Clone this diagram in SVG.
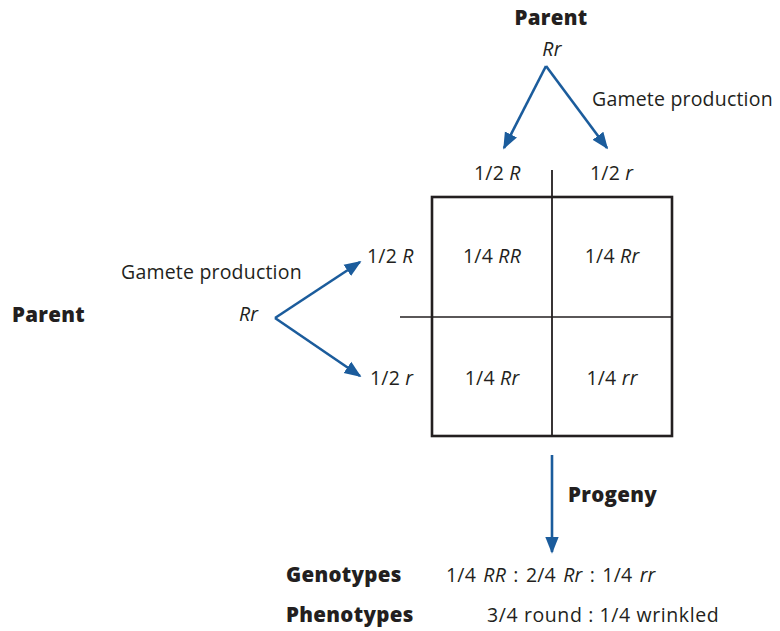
<svg xmlns="http://www.w3.org/2000/svg" width="780" height="631" viewBox="0 0 780 631">
  <style>
    text { font-family: "Open Sans", "Noto Sans", "Liberation Sans", sans-serif; fill: #231f20; }
    .lbl { font-size: 19.5px; letter-spacing: 0.2px; }
    .bold { font-size: 20.5px; font-weight: 800; letter-spacing: 0.3px; }
    .it { font-style: italic; }
    .mid { text-anchor: middle; }
    .arrow { stroke: #1b5c9c; stroke-width: 2.6; fill: none; marker-end: url(#head); }
    .grid { stroke: #231f20; fill: none; }
  </style>
  <defs>
    <marker id="head" viewBox="0 0 10 10" refX="9" refY="5" markerWidth="6.5" markerHeight="6.5" markerUnits="strokeWidth" orient="auto">
      <path d="M0,1 L10,5 L0,9 Z" fill="#1b5c9c"/>
    </marker>
  </defs>

  <rect width="780" height="631" fill="#ffffff"/>

  <!-- top parent -->
  <g id="parent-top">
    <text class="bold mid" x="551" y="25">Parent</text>
    <text class="lbl it mid" x="552" y="56">Rr</text>
  </g>
  <text class="lbl" x="592" y="106">Gamete production</text>

  <!-- left parent -->
  <g id="parent-left">
    <text class="bold" x="12" y="322">Parent</text>
    <text class="lbl it" x="239" y="321">Rr</text>
  </g>
  <text class="lbl" x="121" y="279">Gamete production</text>

  <!-- gamete labels -->
  <g id="gamete-top-R"><text class="lbl" x="474" y="180">1/2 <tspan class="it">R</tspan></text></g>
  <g id="gamete-top-r"><text class="lbl" x="590" y="180">1/2 <tspan class="it">r</tspan></text></g>
  <g id="gamete-left-R"><text class="lbl" x="367" y="263">1/2 <tspan class="it">R</tspan></text></g>
  <g id="gamete-left-r"><text class="lbl" x="370" y="385">1/2 <tspan class="it">r</tspan></text></g>

  <!-- Punnett square -->
  <g id="punnett">
    <rect class="grid" x="432" y="197" width="240" height="239" stroke-width="2.6"/>
    <line class="grid" x1="552" y1="170" x2="552" y2="436" stroke-width="1.8"/>
    <line class="grid" x1="400" y1="317" x2="672" y2="317" stroke-width="1.5"/>
    <text class="lbl mid" x="492" y="263">1/4 <tspan class="it">RR</tspan></text>
    <text class="lbl mid" x="612" y="263">1/4 <tspan class="it">Rr</tspan></text>
    <text class="lbl mid" x="492" y="385">1/4 <tspan class="it">Rr</tspan></text>
    <text class="lbl mid" x="612" y="385">1/4 <tspan class="it">rr</tspan></text>
  </g>

  <!-- connectors -->
  <g id="connectors">
    <line class="arrow" x1="546" y1="66" x2="504" y2="148"/>
    <line class="arrow" x1="546" y1="66" x2="607" y2="148"/>
    <line class="arrow" x1="275" y1="318" x2="360" y2="262"/>
    <line class="arrow" x1="275" y1="318" x2="360" y2="376"/>
    <line class="arrow" x1="552" y1="455" x2="552" y2="552"/>
  </g>

  <!-- progeny -->
  <g id="progeny">
    <text class="bold" x="568" y="502">Progeny</text>
  </g>
  <g id="genotypes">
    <text class="bold" x="286" y="582">Genotypes</text>
    <text class="lbl" x="446" y="582" style="word-spacing:2px">1/4 <tspan class="it">RR</tspan> : 2/4 <tspan class="it">Rr</tspan> : 1/4 <tspan class="it">rr</tspan></text>
  </g>
  <g id="phenotypes">
    <text class="bold" x="286" y="622">Phenotypes</text>
    <text class="lbl" x="487" y="622" style="letter-spacing:0.6px">3/4 round : 1/4 wrinkled</text>
  </g>
</svg>
